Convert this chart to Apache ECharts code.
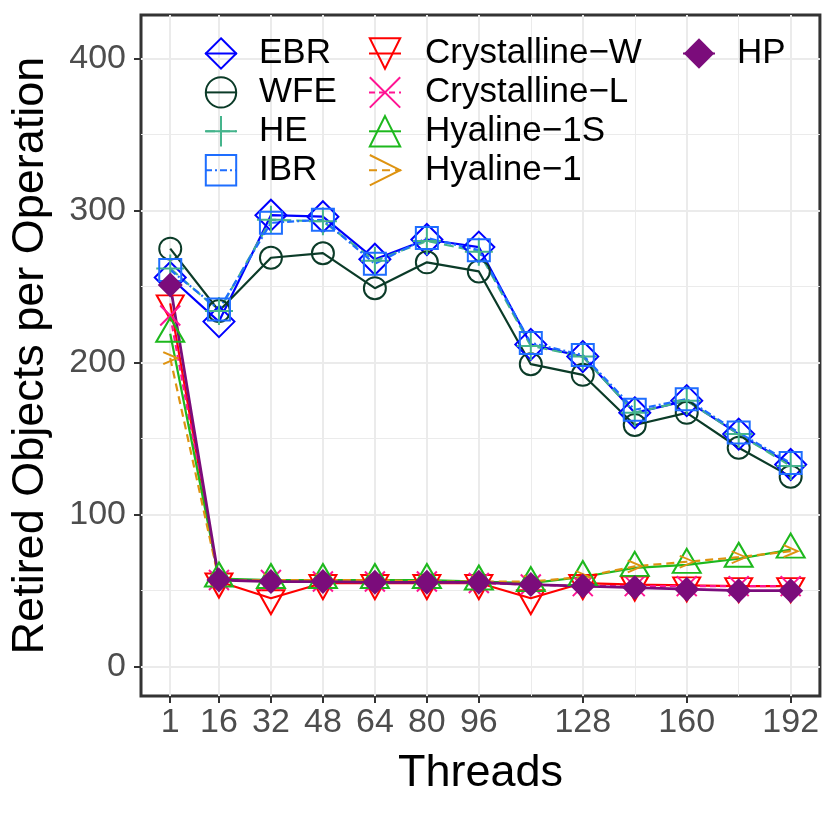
<!DOCTYPE html>
<html>
<head>
<meta charset="utf-8">
<script src="https://cdn.jsdelivr.net/npm/echarts@6/dist/echarts.min.js"></script>
<style>
html,body{margin:0;padding:0;background:#fff;}
#main{width:822px;height:822px;}
</style>
</head>
<body>
<div id="main"></div>
<script>
// ---- data ----
var threads = [1, 16, 32, 48, 64, 80, 96, 112, 128, 144, 160, 176, 192];
var xTickLabels = [1, 16, 32, 48, 64, 80, 96, 128, 160, 192];
var xMinorLines = [112, 144, 176];
var yTickLabels = [0, 100, 200, 300, 400];
var yMinorLines = [50, 150, 250, 350];

var EBR  = [256, 227, 297, 296, 268, 281, 276, 212, 204, 167, 175, 153, 133];
var WFE  = [275, 234, 269, 272, 249, 266, 260, 199, 192, 159, 167, 144, 125];
var HE   = [262, 234, 294, 293, 267, 280, 273, 211, 204, 167, 175, 153, 132];
var IBR  = [261, 235, 292, 294, 265, 282, 274, 213, 205, 169, 176, 154, 134];
var CW   = [239, 56, 45, 55, 55, 55, 55, 45, 55, 54, 53.5, 53, 53];
var CL   = [231, 57, 57, 56, 56, 56, 55, 54, 53, 53, 53, 53, 53];
var H1S  = [219, 58, 57, 57, 57, 57, 56, 55, 59, 65, 67, 71, 77];
var H1   = [203, 57, 57, 57, 57, 56, 56, 56, 59, 66, 69, 72, 76];
var HP   = [251, 57, 56, 56, 55.5, 55.5, 55.5, 54, 53, 52, 51, 50, 50];

var names = ['EBR', 'WFE', 'HE', 'IBR', 'Crystalline\u2212W', 'Crystalline\u2212L', 'Hyaline\u22121S', 'Hyaline\u22121', 'HP'];
var values = [EBR, WFE, HE, IBR, CW, CL, H1S, H1, HP];
var colors = ['#0000FF', '#0B3B28', '#45B48C', '#1E6EFF', '#FF0000', '#FF1493', '#1DB81D', '#DE9310', '#7B0C7B'];

var SYM = {
  diamond: 'path://M0,-10L10,0L0,10L-10,0Z',
  circle: 'path://M10,0A10,10,0,1,1,-10,0A10,10,0,1,1,10,0Z',
  plus: 'path://M0,-10V10M-10,0H10',
  square: 'path://M-10,-10H10V10H-10Z',
  tdown: 'path://M-10,-5.77L10,-5.77L0,11.55Z',
  cross: 'path://M-10,-10L10,10M-10,10L10,-10',
  tup: 'path://M0,-11.55L10,5.77L-10,5.77Z',
  arrow: 'path://M-10,-8L10,0L-10,8'
};

var styles = [
  {sym: SYM.diamond, size: 31, type: 'solid', open: true},
  {sym: SYM.circle, size: 22, type: 'solid', open: true},
  {sym: SYM.plus, size: 28, type: [10, 5], open: true},
  {sym: SYM.square, size: 22, type: [7, 3, 2, 3], open: true},
  {sym: SYM.tdown, size: [27, 24], type: 'solid', open: true, off: [0, 4]},
  {sym: SYM.cross, size: 20, type: [6, 4], open: true},
  {sym: SYM.tup, size: [28, 24], type: 'solid', open: true, off: [0, -4]},
  {sym: SYM.arrow, size: [14, 12], type: [8, 5], open: true},
  {sym: 'diamond', size: 25, type: 'solid', open: false}
];

var series = names.map(function (n, i) {
  var st = styles[i];
  return {
    name: n,
    type: 'line',
    xAxisIndex: 0,
    yAxisIndex: 0,
    data: threads.map(function (t, j) { return [t, values[i][j]]; }),
    symbol: st.sym,
    symbolSize: st.size,
    symbolOffset: st.off || [0, 0],
    showAllSymbol: true,
    lineStyle: {color: colors[i], width: i === 8 ? 2.8 : 2.2, type: st.type},
    itemStyle: st.open ? {color: 'rgba(0,0,0,0)', borderColor: colors[i], borderWidth: 2}
                       : {color: colors[i], borderWidth: 0},
    emphasis: {disabled: true},
    animation: false,
    z: 3
  };
});

function legendCfg(data, left, spacer) {
  return {
    data: data,
    orient: 'vertical',
    left: left,
    top: 31,
    itemWidth: 32,
    itemHeight: 38,
    itemGap: 3.9,
    selectedMode: false,
    formatter: function (n) { return '{s| }{t|' + n + '}'; },
    textStyle: {
      rich: {
        s: {width: spacer, fontSize: 10},
        t: {fontFamily: 'Liberation Sans', fontSize: 35, color: '#000', lineHeight: 38}
      }
    }
  };
}

var chart = echarts.init(document.getElementById('main'), null, {renderer: 'canvas'});
chart.setOption({
  backgroundColor: '#ffffff',
  animation: false,
  textStyle: {fontFamily: 'Liberation Sans'},
  grid: {left: 140, top: 15, right: 2, bottom: 126, show: true, borderColor: '#333333', borderWidth: 3, backgroundColor: 'transparent', containLabel: false},
  legend: [
    legendCfg(names.slice(0, 4), 199, 17),
    legendCfg(names.slice(4, 8), 363, 19),
    legendCfg(names.slice(8), 677, 17)
  ],
  xAxis: [
    {
      type: 'value', min: -8, max: 201, position: 'bottom',
      name: 'Threads', nameLocation: 'middle', nameGap: 55,
      nameTextStyle: {fontSize: 45, color: '#000', fontFamily: 'Liberation Sans'},
      axisLine: {show: false, onZero: false},
      axisTick: {show: true, length: 7, inside: false, customValues: xTickLabels, lineStyle: {color: '#333', width: 2}},
      axisLabel: {customValues: xTickLabels, fontSize: 34, color: '#4d4d4d', margin: 10, fontFamily: 'Liberation Sans'},
      splitLine: {show: true, lineStyle: {color: '#ebebeb', width: 2}}
    },
    {
      type: 'value', min: -8, max: 201, position: 'bottom',
      axisLine: {show: false, onZero: false},
      axisTick: {show: false, customValues: xMinorLines},
      axisLabel: {show: false, customValues: xMinorLines},
      splitLine: {show: true, lineStyle: {color: '#ebebeb', width: 1}}
    }
  ],
  yAxis: [
    {
      type: 'value', min: -19.3, max: 428.7, position: 'left',
      name: 'Retired Objects per Operation', nameLocation: 'middle', nameGap: 88,
      nameTextStyle: {fontSize: 45, color: '#000', fontFamily: 'Liberation Sans'},
      axisLine: {show: false, onZero: false},
      axisTick: {show: true, length: 7, customValues: yTickLabels, lineStyle: {color: '#333', width: 2}},
      axisLabel: {customValues: yTickLabels, fontSize: 34, color: '#4d4d4d', margin: 15, fontFamily: 'Liberation Sans'},
      splitLine: {show: true, lineStyle: {color: '#ebebeb', width: 2}}
    },
    {
      type: 'value', min: -19.3, max: 428.7, position: 'left',
      axisLine: {show: false, onZero: false},
      axisTick: {show: false, customValues: yMinorLines},
      axisLabel: {show: false, customValues: yMinorLines},
      splitLine: {show: true, lineStyle: {color: '#ebebeb', width: 1}}
    }
  ],
  series: series
});
</script>
</body>
</html>
